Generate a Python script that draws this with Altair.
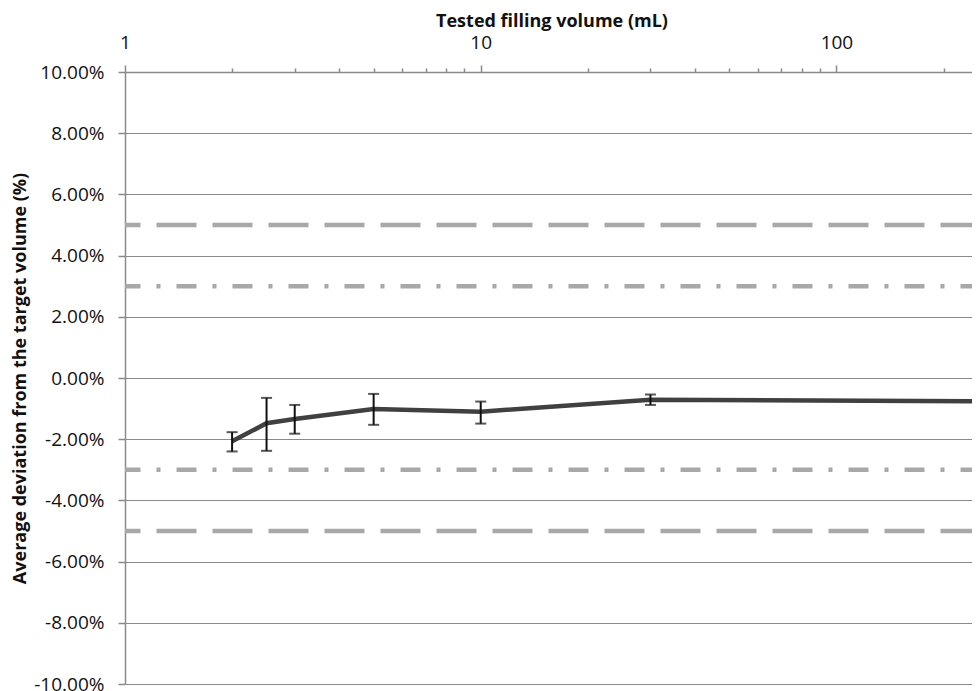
import altair as alt
import pandas as pd

# Tested filling volume (mL)
volumes = [2, 2.5, 3, 5, 10, 30, 250]
# Average deviation (%) and error bar limits (%)
mean_dev = [-2.07, -1.48, -1.34, -1.01, -1.10, -0.71, -0.76]
err_low = [-2.40, -2.38, -1.82, -1.53, -1.49, -0.88, -0.87]
err_high = [-1.77, -0.65, -0.88, -0.52, -0.77, -0.54, -0.66]

# Acceptance limits (%)
limits_5 = [5, -5]
limits_3 = [3, -3]

x_ticks = [1, 2, 3, 4, 5, 6, 7, 8, 9, 10, 20, 30, 40, 50, 60, 70, 80, 90, 100, 200, 250]
x_major = [1, 10, 100]
y_ticks = [-10, -8, -6, -4, -2, 0, 2, 4, 6, 8, 10]

df = pd.DataFrame({"vol": volumes, "dev": mean_dev, "lo": err_low, "hi": err_high})
df5 = pd.DataFrame({"lim": limits_5})
df3 = pd.DataFrame({"lim": limits_3})

FONT = "Open Sans"
GRID = "#8a8a8a"
REF = "#a8a8a8"

xscale = alt.Scale(type="log", domain=[1, 250], nice=False)
yscale = alt.Scale(domain=[-10, 10], nice=False)

major_test = "indexof([1, 10, 100], datum.value) >= 0"

xaxis = alt.Axis(
    orient="top",
    title="Tested filling volume (mL)",
    values=x_ticks,
    labelExpr=f"{major_test} ? format(datum.value, 'd') : ''",
    tickSize={"condition": {"test": major_test, "value": 7}, "value": 4},
    tickColor=GRID,
    tickWidth=1.5,
    domainColor=GRID,
    domainWidth=1.5,
    grid=False,
    labelFont=FONT,
    labelFontSize=19,
    labelColor="#111111",
    labelPadding=13,
    labelFlush=False,
    labelOverlap=False,
    titleFont=FONT,
    titleFontSize=18,
    titleFontWeight="bold",
    titleColor="#111111",
    titlePadding=3,
)

yaxis = alt.Axis(
    title="Average deviation from the target volume (%)",
    values=y_ticks,
    labelExpr="replace(format(datum.value / 100, '.2%'), '\u2212', '-')",
    tickSize=7,
    tickColor=GRID,
    tickWidth=1.5,
    domainColor=GRID,
    domainWidth=1.5,
    grid=True,
    gridColor=GRID,
    gridWidth=1.2,
    labelFont=FONT,
    labelFontSize=19,
    labelColor="#111111",
    labelPadding=14,
    labelFlush=False,
    titleFont=FONT,
    titleFontSize=18,
    titleFontWeight="bold",
    titleColor="#111111",
    titlePadding=4,
)

base = alt.Chart(df)

axes_layer = base.mark_point(opacity=0).encode(
    x=alt.X("vol:Q", scale=xscale, axis=xaxis),
    y=alt.Y("dev:Q", scale=yscale, axis=yaxis),
)

lim5 = alt.Chart(df5).mark_rule(
    color=REF, strokeWidth=4.5, strokeDash=[40, 16], strokeDashOffset=2.5
).encode(y=alt.Y("lim:Q", scale=yscale))

lim3 = alt.Chart(df3).mark_rule(
    color=REF, strokeWidth=4.5, strokeDash=[20, 16, 4, 16], strokeDashOffset=2.5
).encode(y=alt.Y("lim:Q", scale=yscale))

line = base.mark_line(color="#404040", strokeWidth=4.5).encode(
    x=alt.X("vol:Q", scale=xscale),
    y=alt.Y("dev:Q", scale=yscale),
)

err = base.mark_errorbar(ticks={"size": 11, "thickness": 2, "color": "#111111"}, color="#111111", thickness=2).encode(
    x=alt.X("vol:Q", scale=xscale),
    y=alt.Y("lo:Q", scale=yscale, title=""),
    y2="hi:Q",
)

chart = alt.layer(axes_layer, lim5, lim3, line, err).properties(
    width=853,
    height=612,
    autosize=alt.AutoSizeParams(type="none"),
    padding={"left": 117, "top": 64, "right": -6, "bottom": 12},
).configure_view(stroke=None).configure(background="white")

chart.save("out.html", embed_options={"renderer": "svg", "actions": False})
